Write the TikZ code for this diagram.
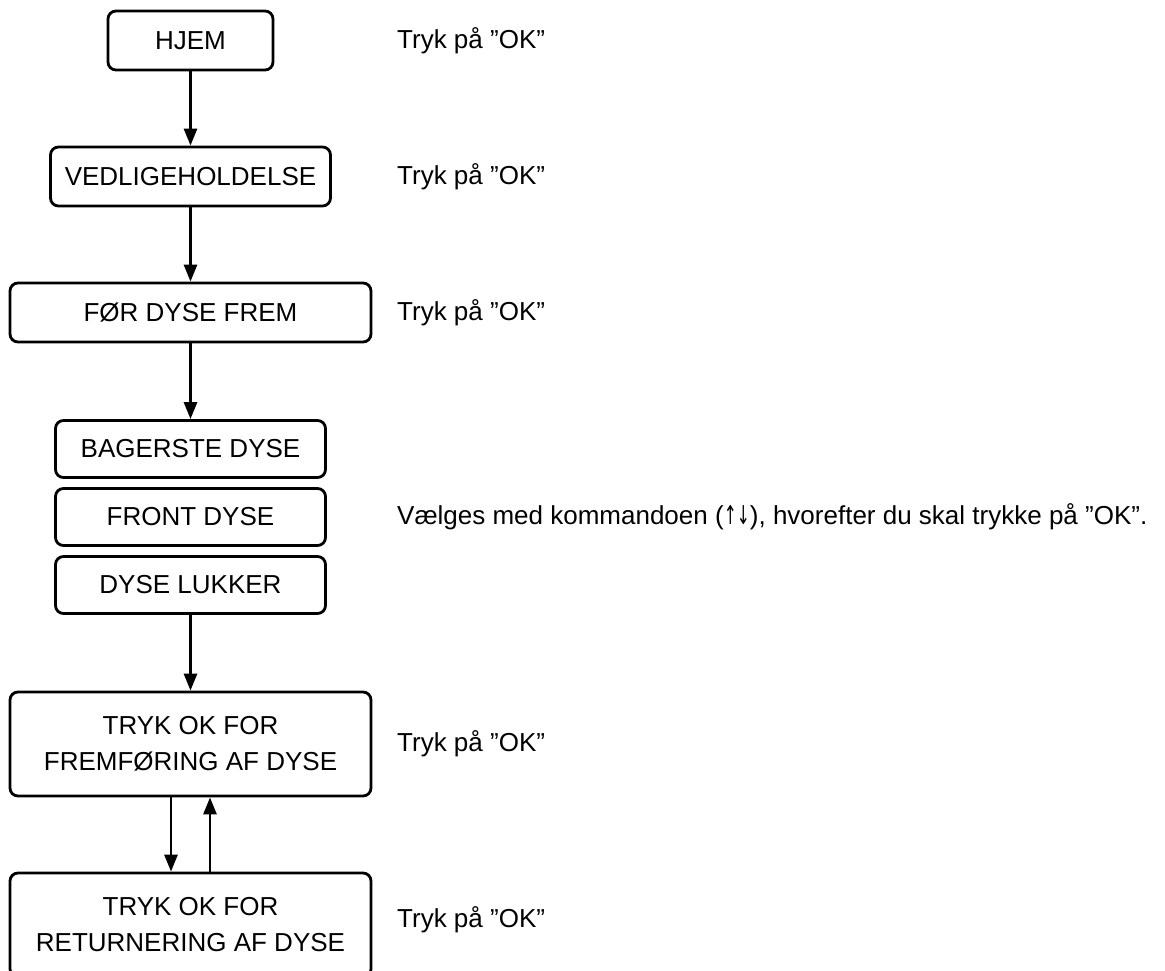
\documentclass[tikz,border=0pt]{standalone}
\usepackage{fontspec}
\setmainfont{Liberation Sans}
\newfontfamily\arrowfont{DejaVu Sans}
\usetikzlibrary{arrows.meta,positioning}

\begin{document}
\begin{tikzpicture}[x=1pt, y=-1pt,
  every node/.style={font=\fontsize{26}{36}\selectfont},
  menu/.style={draw, line width=2.8pt, rounded corners=8pt, minimum height=59pt, inner sep=0pt, align=center, fill=white},
  rel/.style={-{Triangle[width=13pt,length=17pt]}, line width=2.8pt},
  hint/.style={anchor=west, inner sep=0pt}
]
\useasboundingbox (0,0) rectangle (1165,971);
\node[menu, minimum width=165pt] (home) at (190.5,40.5) {HJEM};
\node[menu, minimum width=280pt] (maint) at (190.5,176.5) {VEDLIGEHOLDELSE};
\node[menu, minimum width=361pt] (advance) at (190.5,312.5) {FØR DYSE FREM};
\node[menu, minimum width=270pt, minimum height=57pt] (rear) at (190.5,449) {BAGERSTE DYSE};
\node[menu, minimum width=270pt, minimum height=57pt] (front) at (190.5,517) {FRONT DYSE};
\node[menu, minimum width=270pt, minimum height=57pt] (closer) at (190.5,585) {DYSE LUKKER};
\node[menu, minimum width=361pt, minimum height=104pt] (fwd) at (190.5,744) {TRYK OK FOR\\FREMFØRING AF DYSE};
\node[menu, minimum width=361pt, minimum height=104pt] (ret) at (190.5,925) {TRYK OK FOR\\RETURNERING AF DYSE};

\node[hint] (h1) at (397,40.5) {Tryk på ”OK”};
\node[hint] (h2) at (397,176.5) {Tryk på ”OK”};
\node[hint] (h3) at (397,312.5) {Tryk på ”OK”};
\node[hint] (h4) at (397,517) {Vælges med kommandoen ({\arrowfont\scalebox{0.6}[1]{↑}\scalebox{0.6}[1]{↓}}), hvorefter du skal trykke på ”OK”.};
\node[hint] (h5) at (397,744) {Tryk på ”OK”};
\node[hint] (h6) at (397,920) {Tryk på ”OK”};

\draw[rel] (home) -- (maint);
\draw[rel] (maint) -- (advance);
\draw[rel] (advance) -- (rear);
\draw[rel] (closer) -- (fwd);
\draw[rel] ([xshift=-19.5pt]fwd.south) -- ([xshift=-19.5pt]ret.north);
\draw[rel] ([xshift=19.5pt]ret.north) -- ([xshift=19.5pt]fwd.south);
\end{tikzpicture}
\end{document}
